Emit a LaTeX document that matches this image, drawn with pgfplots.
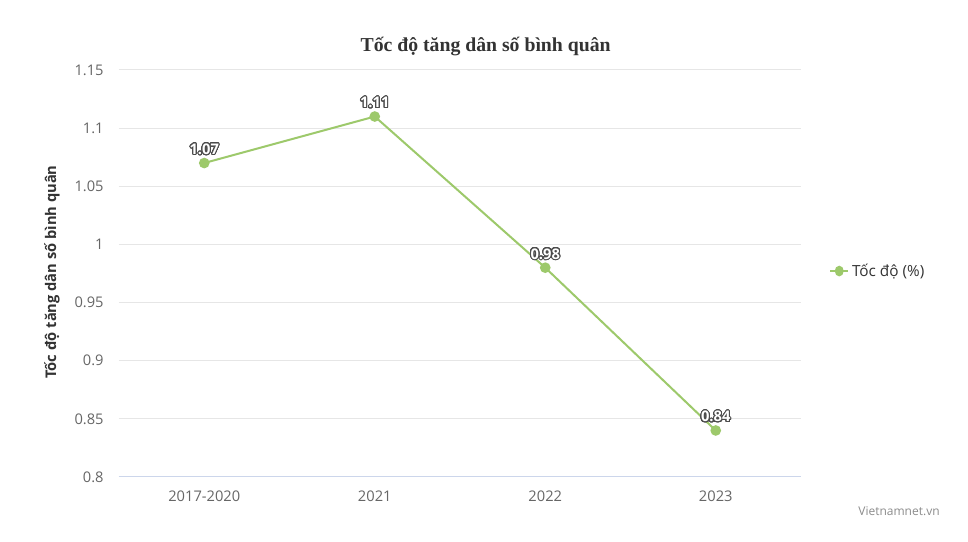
\documentclass[border=0pt]{standalone}
\usepackage{pgfplots}
\pgfplotsset{compat=1.18}
\usepackage{fontspec}
\setmainfont{Open Sans}
\newfontfamily\titlefont{Liberation Serif}
\usepackage{contour}
\contourlength{0.75pt}
\contournumber{32}
\definecolor{lineg}{HTML}{9DC96B}
\definecolor{tickc}{HTML}{666666}
\definecolor{gridc}{HTML}{E6E6E6}
\definecolor{axc}{HTML}{CCD6EB}
\definecolor{txt}{HTML}{333333}
\begin{document}
\begin{tikzpicture}
\path[use as bounding box, fill=white] (-89.25pt,-48.75pt) rectangle (636.75pt,357.75pt);
\begin{axis}[
  at={(0,0)}, anchor=south west,
  scale only axis, width=511.5pt, height=305.25pt,
  xmin=-0.5, xmax=3.5, ymin=0.8, ymax=1.15,
  xtick={0,1,2,3},
  xticklabels={2017-2020,2021,2022,2023},
  ytick={0.8,0.85,0.9,0.95,1,1.05,1.1,1.15},
  yticklabels={0.8,0.85,0.9,0.95,1,1.05,1.1,1.15},
  ymajorgrids, grid style={draw=gridc, line width=0.75pt},
  axis x line*=bottom, axis y line*=left,
  x axis line style={draw=axc, line width=0.75pt, -},
  y axis line style={draw=none},
  major tick length=0pt,
  tick style={draw=none},
  yticklabel style={font=\fontsize{11}{13}\selectfont, text=tickc, anchor=east, xshift=-8pt},
  xticklabel style={font=\fontsize{11}{13}\selectfont, text=tickc, yshift=-6.5pt},
  legend style={at={(rel axis cs:1.035,0.506)}, anchor=west, draw=none, fill=none,
     font=\fontsize{11.5}{13}\selectfont\color{txt}},
  legend cell align=left,
  legend image post style={xscale=0.8},
  clip=false,
]
\addplot[color=lineg, line width=1.5pt, mark=*, mark size=3.2pt,
  mark options={fill=lineg, draw=lineg},
  nodes near coords={\contour{black!70}{\textcolor{white}{\pgfmathprintnumber[fixed,precision=2,fixed zerofill,assume math mode=true]{\pgfplotspointmeta}}}},
  every node near coord/.append style={font=\fontsize{11}{13}\selectfont\bfseries, yshift=1.5pt},
] coordinates {(0,1.07) (1,1.11) (2,0.98) (3,0.84)};
\addlegendentry{Tốc độ (\%)}
\end{axis}
\node[font=\titlefont\bfseries\fontsize{14.8}{18}\selectfont, text=txt] at (275pt,322.5pt) {Tốc độ tăng dân số bình quân};
\node[rotate=90, font=\bfseries\fontsize{11}{13}\selectfont, text=txt] at (-50.25pt,153.75pt) {Tốc độ tăng dân số bình quân};
\node[font=\fontsize{9}{11}\selectfont, text=black!45] at (585pt,-26pt) {Vietnamnet.vn};
\end{tikzpicture}
\end{document}
